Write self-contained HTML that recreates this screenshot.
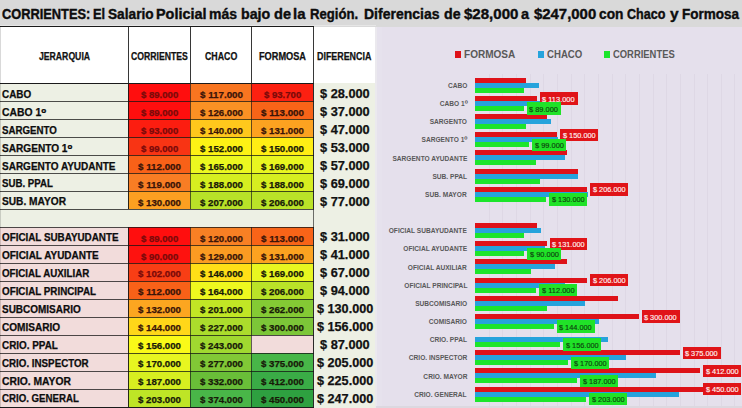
<!DOCTYPE html>
<html><head><meta charset="utf-8"><style>
html,body{margin:0;padding:0;}
body{width:742px;height:408px;overflow:hidden;position:relative;background:#fff;font-family:"Liberation Sans",sans-serif;font-weight:bold;}
.r{position:absolute;}
.t{position:absolute;white-space:nowrap;line-height:0;transform-origin:0 0;}
.s{-webkit-text-stroke:0.25px currentColor;}
.s2{-webkit-text-stroke:0.4px currentColor;}
.n{font-weight:normal;-webkit-text-stroke:0.15px currentColor;}
</style></head><body>
<div class="r" style="left:0px;top:0px;width:742px;height:27px;background:#d9d9d9;"></div>
<div class="r" style="left:0px;top:27px;width:376px;height:381px;background:#ffffff;"></div>
<div class="r" style="left:376px;top:27px;width:366px;height:381px;background:#e5e0ec;"></div>
<div class="t s2" style="left:1.89px;top:13.88px;font-size:14.78px;color:#0d0d0d;transform:scaleX(0.8679);">CORRIENTES:</div>
<div class="t s2" style="left:92.57px;top:13.88px;font-size:14.78px;color:#0d0d0d;transform:scaleX(0.8655);">El</div>
<div class="t s2" style="left:108.19px;top:13.88px;font-size:14.78px;color:#0d0d0d;transform:scaleX(0.9261);">Salario</div>
<div class="t s2" style="left:155.76px;top:13.88px;font-size:14.78px;color:#0d0d0d;transform:scaleX(0.9770);">Policial</div>
<div class="t s2" style="left:209.09px;top:13.88px;font-size:14.78px;color:#0d0d0d;transform:scaleX(0.9460);">más</div>
<div class="t s2" style="left:240.78px;top:13.88px;font-size:14.78px;color:#0d0d0d;transform:scaleX(0.9609);">bajo</div>
<div class="t s2" style="left:273.52px;top:13.88px;font-size:14.78px;color:#0d0d0d;transform:scaleX(0.9868);">de</div>
<div class="t s2" style="left:293.25px;top:13.88px;font-size:14.78px;color:#0d0d0d;transform:scaleX(1.0103);">la</div>
<div class="t s2" style="left:310.24px;top:13.88px;font-size:14.78px;color:#0d0d0d;transform:scaleX(0.8898);">Región.</div>
<div class="t s2" style="left:364.19px;top:13.88px;font-size:14.78px;color:#0d0d0d;transform:scaleX(0.9485);">Diferencias</div>
<div class="t s2" style="left:444.13px;top:13.88px;font-size:14.78px;color:#0d0d0d;transform:scaleX(0.9620);">de</div>
<div class="t s2" style="left:464.07px;top:13.88px;font-size:14.78px;color:#0d0d0d;transform:scaleX(1.0185);">$28,000</div>
<div class="t s2" style="left:521.06px;top:13.88px;font-size:14.78px;color:#0d0d0d;transform:scaleX(0.9828);">a</div>
<div class="t s2" style="left:533.78px;top:13.88px;font-size:14.78px;color:#0d0d0d;transform:scaleX(1.0094);">$247,000</div>
<div class="t s2" style="left:599.45px;top:13.88px;font-size:14.78px;color:#0d0d0d;transform:scaleX(0.9289);">con</div>
<div class="t s2" style="left:627.41px;top:13.88px;font-size:14.78px;color:#0d0d0d;transform:scaleX(0.8500);">Chaco</div>
<div class="t s2" style="left:669.55px;top:13.88px;font-size:14.78px;color:#0d0d0d;transform:scaleX(1.0500);">y</div>
<div class="t s2" style="left:682.42px;top:13.88px;font-size:14.78px;color:#0d0d0d;transform:scaleX(0.9155);">Formosa</div>
<div class="r" style="left:313px;top:83px;width:62px;height:325px;background:#edf0e4;"></div>
<div class="r" style="left:0px;top:83px;width:128px;height:18px;background:#edf0e4;"></div>
<div class="r" style="left:128px;top:83px;width:62px;height:18px;background:#ff0e0e;"></div>
<div class="r" style="left:190px;top:83px;width:61px;height:18px;background:#f87520;"></div>
<div class="r" style="left:251px;top:83px;width:62px;height:18px;background:#fc2011;"></div>
<div class="r" style="left:0px;top:101px;width:128px;height:18px;background:#edf0e4;"></div>
<div class="r" style="left:128px;top:101px;width:62px;height:18px;background:#ff0e0e;"></div>
<div class="r" style="left:190px;top:101px;width:61px;height:18px;background:#fa9124;"></div>
<div class="r" style="left:251px;top:101px;width:62px;height:18px;background:#f86418;"></div>
<div class="r" style="left:0px;top:119px;width:128px;height:18px;background:#edf0e4;"></div>
<div class="r" style="left:128px;top:119px;width:62px;height:18px;background:#fc1d10;"></div>
<div class="r" style="left:190px;top:119px;width:61px;height:18px;background:#ffc81c;"></div>
<div class="r" style="left:251px;top:119px;width:62px;height:18px;background:#fca220;"></div>
<div class="r" style="left:0px;top:137px;width:128px;height:18px;background:#edf0e4;"></div>
<div class="r" style="left:128px;top:137px;width:62px;height:18px;background:#f83414;"></div>
<div class="r" style="left:190px;top:137px;width:61px;height:18px;background:#fdf215;"></div>
<div class="r" style="left:251px;top:137px;width:62px;height:18px;background:#ffee14;"></div>
<div class="r" style="left:0px;top:155px;width:128px;height:18px;background:#edf0e4;"></div>
<div class="r" style="left:128px;top:155px;width:62px;height:18px;background:#f86118;"></div>
<div class="r" style="left:190px;top:155px;width:61px;height:18px;background:#ecf820;"></div>
<div class="r" style="left:251px;top:155px;width:62px;height:18px;background:#e8f620;"></div>
<div class="r" style="left:0px;top:173px;width:128px;height:18px;background:#edf0e4;"></div>
<div class="r" style="left:128px;top:173px;width:62px;height:18px;background:#f87d24;"></div>
<div class="r" style="left:190px;top:173px;width:61px;height:18px;background:#d6ee20;"></div>
<div class="r" style="left:251px;top:173px;width:62px;height:18px;background:#d6ee20;"></div>
<div class="r" style="left:0px;top:191px;width:128px;height:18px;background:#edf0e4;"></div>
<div class="r" style="left:128px;top:191px;width:62px;height:18px;background:#fc9f21;"></div>
<div class="r" style="left:190px;top:191px;width:61px;height:18px;background:#b8e228;"></div>
<div class="r" style="left:251px;top:191px;width:62px;height:18px;background:#bae328;"></div>
<div class="r" style="left:0px;top:209px;width:313px;height:18px;background:#edf0e4;"></div>
<div class="r" style="left:0px;top:227px;width:128px;height:18px;background:#f2dcdb;"></div>
<div class="r" style="left:128px;top:227px;width:62px;height:18px;background:#ff0e0e;"></div>
<div class="r" style="left:190px;top:227px;width:61px;height:18px;background:#f88024;"></div>
<div class="r" style="left:251px;top:227px;width:62px;height:18px;background:#f86418;"></div>
<div class="r" style="left:0px;top:245px;width:128px;height:18px;background:#f2dcdb;"></div>
<div class="r" style="left:128px;top:245px;width:62px;height:18px;background:#fe120f;"></div>
<div class="r" style="left:190px;top:245px;width:61px;height:18px;background:#fb9b22;"></div>
<div class="r" style="left:251px;top:245px;width:62px;height:18px;background:#fca220;"></div>
<div class="r" style="left:0px;top:263px;width:128px;height:18px;background:#f2dcdb;"></div>
<div class="r" style="left:128px;top:263px;width:62px;height:18px;background:#f83e15;"></div>
<div class="r" style="left:190px;top:263px;width:61px;height:18px;background:#ffdf17;"></div>
<div class="r" style="left:251px;top:263px;width:62px;height:18px;background:#e8f620;"></div>
<div class="r" style="left:0px;top:281px;width:128px;height:18px;background:#f2dcdb;"></div>
<div class="r" style="left:128px;top:281px;width:62px;height:18px;background:#f86118;"></div>
<div class="r" style="left:190px;top:281px;width:61px;height:18px;background:#eef81f;"></div>
<div class="r" style="left:251px;top:281px;width:62px;height:18px;background:#bae328;"></div>
<div class="r" style="left:0px;top:299px;width:128px;height:18px;background:#f2dcdb;"></div>
<div class="r" style="left:128px;top:299px;width:62px;height:18px;background:#fca620;"></div>
<div class="r" style="left:190px;top:299px;width:61px;height:18px;background:#c1e625;"></div>
<div class="r" style="left:251px;top:299px;width:62px;height:18px;background:#84ca34;"></div>
<div class="r" style="left:0px;top:317px;width:128px;height:18px;background:#f2dcdb;"></div>
<div class="r" style="left:128px;top:317px;width:62px;height:18px;background:#ffd719;"></div>
<div class="r" style="left:190px;top:317px;width:61px;height:18px;background:#abdc2c;"></div>
<div class="r" style="left:251px;top:317px;width:62px;height:18px;background:#7cc638;"></div>
<div class="r" style="left:0px;top:335px;width:128px;height:18px;background:#f2dcdb;"></div>
<div class="r" style="left:128px;top:335px;width:62px;height:18px;background:#fafa18;"></div>
<div class="r" style="left:190px;top:335px;width:61px;height:18px;background:#a0d830;"></div>
<div class="r" style="left:251px;top:335px;width:62px;height:18px;background:#f2dcdb;"></div>
<div class="r" style="left:0px;top:353px;width:128px;height:18px;background:#f2dcdb;"></div>
<div class="r" style="left:128px;top:353px;width:62px;height:18px;background:#e7f620;"></div>
<div class="r" style="left:190px;top:353px;width:61px;height:18px;background:#81c836;"></div>
<div class="r" style="left:251px;top:353px;width:62px;height:18px;background:#48b648;"></div>
<div class="r" style="left:0px;top:371px;width:128px;height:18px;background:#f2dcdb;"></div>
<div class="r" style="left:128px;top:371px;width:62px;height:18px;background:#d7ee20;"></div>
<div class="r" style="left:190px;top:371px;width:61px;height:18px;background:#69be38;"></div>
<div class="r" style="left:251px;top:371px;width:62px;height:18px;background:#3aac46;"></div>
<div class="r" style="left:0px;top:389px;width:128px;height:18px;background:#f2dcdb;"></div>
<div class="r" style="left:128px;top:389px;width:62px;height:18px;background:#bee526;"></div>
<div class="r" style="left:190px;top:389px;width:61px;height:18px;background:#49b648;"></div>
<div class="r" style="left:251px;top:389px;width:62px;height:18px;background:#2ea040;"></div>
<div class="t s" style="left:2.30px;top:94.83px;font-size:10.29px;color:#0d0d0d;transform:scaleX(0.9616);">CABO</div>
<div class="t s" style="left:141.01px;top:95.24px;font-size:9.13px;color:#7a0a0a;transform:scaleX(1.0481);">$ 89.000</div>
<div class="t s" style="left:199.60px;top:95.24px;font-size:9.13px;color:#3a1408;transform:scaleX(1.0725);">$ 117.000</div>
<div class="t s" style="left:264.01px;top:95.24px;font-size:9.13px;color:#7a0a0a;transform:scaleX(1.0481);">$ 93.700</div>
<div class="t s" style="left:319.81px;top:94.13px;font-size:12.32px;color:#111;transform:scaleX(1.0372);">$ 28.000</div>
<div class="t s" style="left:2.29px;top:112.75px;font-size:10.29px;color:#0d0d0d;transform:scaleX(1.0075);">CABO 1<span style="font-size:1.3em;vertical-align:-0.12em">º</span></div>
<div class="t s" style="left:141.01px;top:113.15px;font-size:9.13px;color:#7a0a0a;transform:scaleX(1.0481);">$ 89.000</div>
<div class="t s" style="left:199.60px;top:113.15px;font-size:9.13px;color:#3a1408;transform:scaleX(1.0591);">$ 126.000</div>
<div class="t s" style="left:261.10px;top:113.15px;font-size:9.13px;color:#3a1408;transform:scaleX(1.0725);">$ 113.000</div>
<div class="t s" style="left:319.81px;top:112.05px;font-size:12.32px;color:#111;transform:scaleX(1.0372);">$ 37.000</div>
<div class="t s" style="left:2.41px;top:130.67px;font-size:10.29px;color:#0d0d0d;transform:scaleX(0.9448);">SARGENTO</div>
<div class="t s" style="left:141.01px;top:131.07px;font-size:9.13px;color:#7a0a0a;transform:scaleX(1.0481);">$ 93.000</div>
<div class="t s" style="left:199.60px;top:131.07px;font-size:9.13px;color:#3a1408;transform:scaleX(1.0591);">$ 140.000</div>
<div class="t s" style="left:261.10px;top:131.07px;font-size:9.13px;color:#3a1408;transform:scaleX(1.0591);">$ 131.000</div>
<div class="t s" style="left:319.81px;top:129.97px;font-size:12.32px;color:#111;transform:scaleX(1.0372);">$ 47.000</div>
<div class="t s" style="left:2.40px;top:148.59px;font-size:10.29px;color:#0d0d0d;transform:scaleX(0.9825);">SARGENTO 1<span style="font-size:1.3em;vertical-align:-0.12em">º</span></div>
<div class="t s" style="left:141.01px;top:148.99px;font-size:9.13px;color:#7a0a0a;transform:scaleX(1.0481);">$ 99.000</div>
<div class="t s" style="left:199.60px;top:148.99px;font-size:9.13px;color:#181a08;transform:scaleX(1.0591);">$ 152.000</div>
<div class="t s" style="left:261.10px;top:148.99px;font-size:9.13px;color:#181a08;transform:scaleX(1.0591);">$ 150.000</div>
<div class="t s" style="left:319.81px;top:147.88px;font-size:12.32px;color:#111;transform:scaleX(1.0372);">$ 53.000</div>
<div class="t s" style="left:2.40px;top:166.51px;font-size:10.29px;color:#0d0d0d;transform:scaleX(0.9723);">SARGENTO AYUDANTE</div>
<div class="t s" style="left:138.10px;top:166.91px;font-size:9.13px;color:#3a1408;transform:scaleX(1.0725);">$ 112.000</div>
<div class="t s" style="left:199.60px;top:166.91px;font-size:9.13px;color:#181a08;transform:scaleX(1.0591);">$ 165.000</div>
<div class="t s" style="left:261.10px;top:166.91px;font-size:9.13px;color:#181a08;transform:scaleX(1.0591);">$ 169.000</div>
<div class="t s" style="left:319.81px;top:165.80px;font-size:12.32px;color:#111;transform:scaleX(1.0372);">$ 57.000</div>
<div class="t s" style="left:2.41px;top:184.42px;font-size:10.29px;color:#0d0d0d;transform:scaleX(0.9401);">SUB. PPAL</div>
<div class="t s" style="left:138.10px;top:184.82px;font-size:9.13px;color:#3a1408;transform:scaleX(1.0725);">$ 119.000</div>
<div class="t s" style="left:199.60px;top:184.82px;font-size:9.13px;color:#181a08;transform:scaleX(1.0591);">$ 188.000</div>
<div class="t s" style="left:261.10px;top:184.82px;font-size:9.13px;color:#181a08;transform:scaleX(1.0591);">$ 188.000</div>
<div class="t s" style="left:319.81px;top:183.72px;font-size:12.32px;color:#111;transform:scaleX(1.0372);">$ 69.000</div>
<div class="t s" style="left:2.39px;top:202.34px;font-size:10.29px;color:#0d0d0d;transform:scaleX(0.9882);">SUB. MAYOR</div>
<div class="t s" style="left:138.10px;top:202.74px;font-size:9.13px;color:#3a1408;transform:scaleX(1.0591);">$ 130.000</div>
<div class="t s" style="left:199.60px;top:202.74px;font-size:9.13px;color:#181a08;transform:scaleX(1.0591);">$ 207.000</div>
<div class="t s" style="left:261.10px;top:202.74px;font-size:9.13px;color:#181a08;transform:scaleX(1.0591);">$ 206.000</div>
<div class="t s" style="left:319.81px;top:201.64px;font-size:12.32px;color:#111;transform:scaleX(1.0372);">$ 77.000</div>
<div class="t s" style="left:2.31px;top:238.18px;font-size:10.29px;color:#0d0d0d;transform:scaleX(0.9578);">OFICIAL SUBAYUDANTE</div>
<div class="t s" style="left:141.01px;top:238.58px;font-size:9.13px;color:#7a0a0a;transform:scaleX(1.0481);">$ 89.000</div>
<div class="t s" style="left:199.60px;top:238.58px;font-size:9.13px;color:#3a1408;transform:scaleX(1.0591);">$ 120.000</div>
<div class="t s" style="left:261.10px;top:238.58px;font-size:9.13px;color:#3a1408;transform:scaleX(1.0725);">$ 113.000</div>
<div class="t s" style="left:319.81px;top:237.47px;font-size:12.32px;color:#111;transform:scaleX(1.0372);">$ 31.000</div>
<div class="t s" style="left:2.30px;top:256.09px;font-size:10.29px;color:#0d0d0d;transform:scaleX(0.9718);">OFICIAL AYUDANTE</div>
<div class="t s" style="left:141.01px;top:256.50px;font-size:9.13px;color:#7a0a0a;transform:scaleX(1.0481);">$ 90.000</div>
<div class="t s" style="left:199.60px;top:256.50px;font-size:9.13px;color:#3a1408;transform:scaleX(1.0591);">$ 129.000</div>
<div class="t s" style="left:261.10px;top:256.50px;font-size:9.13px;color:#3a1408;transform:scaleX(1.0591);">$ 131.000</div>
<div class="t s" style="left:319.81px;top:255.39px;font-size:12.32px;color:#111;transform:scaleX(1.0372);">$ 41.000</div>
<div class="t s" style="left:2.31px;top:274.01px;font-size:10.29px;color:#0d0d0d;transform:scaleX(0.9499);">OFICIAL AUXILIAR</div>
<div class="t s" style="left:138.10px;top:274.41px;font-size:9.13px;color:#7a0a0a;transform:scaleX(1.0591);">$ 102.000</div>
<div class="t s" style="left:199.60px;top:274.41px;font-size:9.13px;color:#181a08;transform:scaleX(1.0591);">$ 146.000</div>
<div class="t s" style="left:261.10px;top:274.41px;font-size:9.13px;color:#181a08;transform:scaleX(1.0591);">$ 169.000</div>
<div class="t s" style="left:319.81px;top:273.31px;font-size:12.32px;color:#111;transform:scaleX(1.0372);">$ 67.000</div>
<div class="t s" style="left:2.31px;top:291.93px;font-size:10.29px;color:#0d0d0d;transform:scaleX(0.9550);">OFICIAL PRINCIPAL</div>
<div class="t s" style="left:138.10px;top:292.33px;font-size:9.13px;color:#3a1408;transform:scaleX(1.0725);">$ 112.000</div>
<div class="t s" style="left:199.60px;top:292.33px;font-size:9.13px;color:#181a08;transform:scaleX(1.0591);">$ 164.000</div>
<div class="t s" style="left:261.10px;top:292.33px;font-size:9.13px;color:#181a08;transform:scaleX(1.0591);">$ 206.000</div>
<div class="t s" style="left:319.81px;top:291.23px;font-size:12.32px;color:#111;transform:scaleX(1.0372);">$ 94.000</div>
<div class="t s" style="left:2.40px;top:309.85px;font-size:10.29px;color:#0d0d0d;transform:scaleX(0.9700);">SUBCOMISARIO</div>
<div class="t s" style="left:138.10px;top:310.25px;font-size:9.13px;color:#3a1408;transform:scaleX(1.0591);">$ 132.000</div>
<div class="t s" style="left:199.60px;top:310.25px;font-size:9.13px;color:#181a08;transform:scaleX(1.0591);">$ 201.000</div>
<div class="t s" style="left:261.10px;top:310.25px;font-size:9.13px;color:#181a08;transform:scaleX(1.0591);">$ 262.000</div>
<div class="t s" style="left:316.51px;top:309.14px;font-size:12.32px;color:#111;transform:scaleX(1.0269);">$ 130.000</div>
<div class="t s" style="left:2.30px;top:327.76px;font-size:10.29px;color:#0d0d0d;transform:scaleX(0.9795);">COMISARIO</div>
<div class="t s" style="left:138.10px;top:328.17px;font-size:9.13px;color:#3a1408;transform:scaleX(1.0591);">$ 144.000</div>
<div class="t s" style="left:199.60px;top:328.17px;font-size:9.13px;color:#181a08;transform:scaleX(1.0591);">$ 227.000</div>
<div class="t s" style="left:261.10px;top:328.17px;font-size:9.13px;color:#181a08;transform:scaleX(1.0591);">$ 300.000</div>
<div class="t s" style="left:316.51px;top:327.06px;font-size:12.32px;color:#111;transform:scaleX(1.0269);">$ 156.000</div>
<div class="t s" style="left:2.30px;top:345.68px;font-size:10.29px;color:#0d0d0d;transform:scaleX(0.9614);">CRIO. PPAL</div>
<div class="t s" style="left:138.10px;top:346.08px;font-size:9.13px;color:#181a08;transform:scaleX(1.0591);">$ 156.000</div>
<div class="t s" style="left:199.60px;top:346.08px;font-size:9.13px;color:#181a08;transform:scaleX(1.0591);">$ 243.000</div>
<div class="t s" style="left:319.81px;top:344.98px;font-size:12.32px;color:#111;transform:scaleX(1.0372);">$ 87.000</div>
<div class="t s" style="left:2.31px;top:363.60px;font-size:10.29px;color:#0d0d0d;transform:scaleX(0.9498);">CRIO. INSPECTOR</div>
<div class="t s" style="left:138.10px;top:364.00px;font-size:9.13px;color:#181a08;transform:scaleX(1.0591);">$ 170.000</div>
<div class="t s" style="left:199.60px;top:364.00px;font-size:9.13px;color:#181a08;transform:scaleX(1.0591);">$ 277.000</div>
<div class="t s" style="left:261.10px;top:364.00px;font-size:9.13px;color:#181a08;transform:scaleX(1.0591);">$ 375.000</div>
<div class="t s" style="left:316.51px;top:362.90px;font-size:12.32px;color:#111;transform:scaleX(1.0269);">$ 205.000</div>
<div class="t s" style="left:2.29px;top:381.52px;font-size:10.29px;color:#0d0d0d;transform:scaleX(1.0034);">CRIO. MAYOR</div>
<div class="t s" style="left:138.10px;top:381.92px;font-size:9.13px;color:#181a08;transform:scaleX(1.0591);">$ 187.000</div>
<div class="t s" style="left:199.60px;top:381.92px;font-size:9.13px;color:#181a08;transform:scaleX(1.0591);">$ 332.000</div>
<div class="t s" style="left:261.10px;top:381.92px;font-size:9.13px;color:#181a08;transform:scaleX(1.0591);">$ 412.000</div>
<div class="t s" style="left:316.51px;top:380.81px;font-size:12.32px;color:#111;transform:scaleX(1.0269);">$ 225.000</div>
<div class="t s" style="left:2.31px;top:399.43px;font-size:10.29px;color:#0d0d0d;transform:scaleX(0.9404);">CRIO. GENERAL</div>
<div class="t s" style="left:138.10px;top:399.84px;font-size:9.13px;color:#181a08;transform:scaleX(1.0591);">$ 203.000</div>
<div class="t s" style="left:199.60px;top:399.84px;font-size:9.13px;color:#181a08;transform:scaleX(1.0591);">$ 374.000</div>
<div class="t s" style="left:261.10px;top:399.84px;font-size:9.13px;color:#181a08;transform:scaleX(1.0591);">$ 450.000</div>
<div class="t s" style="left:316.51px;top:398.73px;font-size:12.32px;color:#111;transform:scaleX(1.0269);">$ 247.000</div>
<div class="r" style="left:0px;top:100.5px;width:314px;height:1px;background:rgba(20,20,20,0.75);"></div>
<div class="r" style="left:0px;top:118.5px;width:314px;height:1px;background:rgba(20,20,20,0.75);"></div>
<div class="r" style="left:0px;top:136.5px;width:314px;height:1px;background:rgba(20,20,20,0.75);"></div>
<div class="r" style="left:0px;top:154.5px;width:314px;height:1px;background:rgba(20,20,20,0.75);"></div>
<div class="r" style="left:0px;top:172.5px;width:314px;height:1px;background:rgba(20,20,20,0.75);"></div>
<div class="r" style="left:0px;top:190.5px;width:314px;height:1px;background:rgba(20,20,20,0.75);"></div>
<div class="r" style="left:0px;top:208.5px;width:314px;height:1px;background:rgba(20,20,20,0.75);"></div>
<div class="r" style="left:0px;top:226.5px;width:314px;height:1px;background:rgba(20,20,20,0.75);"></div>
<div class="r" style="left:0px;top:244.5px;width:314px;height:1px;background:rgba(20,20,20,0.75);"></div>
<div class="r" style="left:0px;top:262.5px;width:314px;height:1px;background:rgba(20,20,20,0.75);"></div>
<div class="r" style="left:0px;top:280.5px;width:314px;height:1px;background:rgba(20,20,20,0.75);"></div>
<div class="r" style="left:0px;top:298.5px;width:314px;height:1px;background:rgba(20,20,20,0.75);"></div>
<div class="r" style="left:0px;top:316.5px;width:314px;height:1px;background:rgba(20,20,20,0.75);"></div>
<div class="r" style="left:0px;top:334.5px;width:314px;height:1px;background:rgba(20,20,20,0.75);"></div>
<div class="r" style="left:0px;top:352.5px;width:314px;height:1px;background:rgba(20,20,20,0.75);"></div>
<div class="r" style="left:0px;top:370.5px;width:314px;height:1px;background:rgba(20,20,20,0.75);"></div>
<div class="r" style="left:0px;top:388.5px;width:314px;height:1px;background:rgba(20,20,20,0.75);"></div>
<div class="r" style="left:0px;top:406.5px;width:314px;height:1px;background:rgba(20,20,20,0.75);"></div>
<div class="r" style="left:0px;top:424.5px;width:314px;height:1px;background:rgba(20,20,20,0.75);"></div>
<div class="r" style="left:127.5px;top:26px;width:1px;height:57px;background:rgba(20,20,20,0.85);"></div>
<div class="r" style="left:127.5px;top:83px;width:1px;height:126px;background:rgba(20,20,20,0.9);"></div>
<div class="r" style="left:127.5px;top:227px;width:1px;height:181px;background:rgba(20,20,20,0.9);"></div>
<div class="r" style="left:189.5px;top:26px;width:1px;height:57px;background:rgba(20,20,20,0.85);"></div>
<div class="r" style="left:189.5px;top:83px;width:1px;height:126px;background:rgba(20,20,20,0.65);"></div>
<div class="r" style="left:189.5px;top:227px;width:1px;height:181px;background:rgba(20,20,20,0.65);"></div>
<div class="r" style="left:250.5px;top:26px;width:1px;height:57px;background:rgba(20,20,20,0.85);"></div>
<div class="r" style="left:250.5px;top:83px;width:1px;height:126px;background:rgba(20,20,20,0.65);"></div>
<div class="r" style="left:250.5px;top:227px;width:1px;height:181px;background:rgba(20,20,20,0.65);"></div>
<div class="r" style="left:312.5px;top:26px;width:1px;height:57px;background:rgba(20,20,20,0.85);"></div>
<div class="r" style="left:312.5px;top:83px;width:1px;height:126px;background:rgba(20,20,20,0.9);"></div>
<div class="r" style="left:312.5px;top:227px;width:1px;height:181px;background:rgba(20,20,20,0.9);"></div>
<div class="r" style="left:312.5px;top:209px;width:1px;height:18px;background:rgba(20,20,20,0.6);"></div>
<div class="r" style="left:0px;top:406.6px;width:314px;height:1.4px;background:#1a1a1a;"></div>
<div class="r" style="left:0px;top:25px;width:376px;height:1px;background:#e6e6e6;"></div>
<div class="r" style="left:0px;top:26px;width:314px;height:1.3px;background:#1a1a1a;"></div>
<div class="r" style="left:0px;top:82.6px;width:314px;height:1.4px;background:#1a1a1a;"></div>
<div class="r" style="left:0px;top:26px;width:1px;height:382px;background:rgba(0,0,0,0.15);"></div>
<div class="r" style="left:375px;top:27px;width:1.5px;height:381px;background:#ebe9ee;"></div>
<div class="r" style="left:376.5px;top:27px;width:5px;height:381px;background:#e6e2ed;"></div>
<div class="t s" style="left:38.87px;top:56.53px;font-size:10.00px;color:#111;transform:scaleX(0.8667);">JERARQUIA</div>
<div class="t s" style="left:130.75px;top:56.53px;font-size:10.00px;color:#111;transform:scaleX(0.8657);">CORRIENTES</div>
<div class="t s" style="left:204.85px;top:56.53px;font-size:10.00px;color:#111;transform:scaleX(0.8815);">CHACO</div>
<div class="t s" style="left:259.00px;top:56.53px;font-size:10.00px;color:#111;transform:scaleX(0.9183);">FORMOSA</div>
<div class="t s" style="left:316.82px;top:56.53px;font-size:10.00px;color:#111;transform:scaleX(0.8887);">DIFERENCIA</div>
<div class="r" style="left:489px;top:74px;width:1px;height:332px;background:rgba(150,140,165,0.09);"></div>
<div class="r" style="left:502px;top:74px;width:1px;height:332px;background:rgba(150,140,165,0.09);"></div>
<div class="r" style="left:516px;top:74px;width:1px;height:332px;background:rgba(150,140,165,0.09);"></div>
<div class="r" style="left:530px;top:74px;width:1px;height:332px;background:rgba(150,140,165,0.09);"></div>
<div class="r" style="left:543px;top:74px;width:1px;height:332px;background:rgba(150,140,165,0.09);"></div>
<div class="r" style="left:557px;top:74px;width:1px;height:332px;background:rgba(150,140,165,0.09);"></div>
<div class="r" style="left:571px;top:74px;width:1px;height:332px;background:rgba(150,140,165,0.09);"></div>
<div class="r" style="left:584px;top:74px;width:1px;height:332px;background:rgba(150,140,165,0.09);"></div>
<div class="r" style="left:598px;top:74px;width:1px;height:332px;background:rgba(150,140,165,0.09);"></div>
<div class="r" style="left:612px;top:74px;width:1px;height:332px;background:rgba(150,140,165,0.09);"></div>
<div class="r" style="left:625px;top:74px;width:1px;height:332px;background:rgba(150,140,165,0.09);"></div>
<div class="r" style="left:639px;top:74px;width:1px;height:332px;background:rgba(150,140,165,0.09);"></div>
<div class="r" style="left:653px;top:74px;width:1px;height:332px;background:rgba(150,140,165,0.09);"></div>
<div class="r" style="left:666px;top:74px;width:1px;height:332px;background:rgba(150,140,165,0.09);"></div>
<div class="r" style="left:680px;top:74px;width:1px;height:332px;background:rgba(150,140,165,0.09);"></div>
<div class="r" style="left:694px;top:74px;width:1px;height:332px;background:rgba(150,140,165,0.09);"></div>
<div class="r" style="left:707px;top:74px;width:1px;height:332px;background:rgba(150,140,165,0.09);"></div>
<div class="r" style="left:721px;top:74px;width:1px;height:332px;background:rgba(150,140,165,0.09);"></div>
<div class="r" style="left:734px;top:74px;width:1px;height:332px;background:rgba(150,140,165,0.09);"></div>
<div class="r" style="left:454.5px;top:51.3px;width:6.6px;height:6.6px;background:#de1219;"></div>
<div class="r" style="left:537.5px;top:51.3px;width:6.4px;height:6.6px;background:#26a3dc;"></div>
<div class="r" style="left:603.5px;top:51.3px;width:6.4px;height:6.6px;background:#1ce52c;"></div>
<div class="t " style="left:464.15px;top:54.28px;font-size:10.72px;color:#595959;transform:scaleX(0.9361);">FORMOSA</div>
<div class="t " style="left:546.92px;top:54.28px;font-size:10.72px;color:#595959;transform:scaleX(0.8973);">CHACO</div>
<div class="t " style="left:612.62px;top:54.28px;font-size:10.72px;color:#595959;transform:scaleX(0.8778);">CORRIENTES</div>
<div class="r" style="left:475.1px;top:78px;width:51.11px;height:5px;background:#de1219;"></div>
<div class="r" style="left:475.1px;top:83px;width:63.82px;height:5px;background:#26a3dc;"></div>
<div class="r" style="left:475.1px;top:88px;width:48.55px;height:5px;background:#1ce52c;"></div>
<div class="t " style="left:445.79px;top:86.49px;font-size:7.25px;color:#595959;transform:scaleX(1.0000);transform:scaleX(0.91);transform-origin:100% 0;">CABO</div>
<div class="r" style="left:475.1px;top:96px;width:61.64px;height:5px;background:#de1219;"></div>
<div class="r" style="left:475.1px;top:101px;width:68.73px;height:5px;background:#26a3dc;"></div>
<div class="r" style="left:475.1px;top:106px;width:48.55px;height:5px;background:#1ce52c;"></div>
<div class="t " style="left:436.87px;top:104.49px;font-size:7.25px;color:#595959;transform:scaleX(1.0000);transform:scaleX(0.91);transform-origin:100% 0;">CABO 1<span style="font-size:1.3em;vertical-align:-0.12em">º</span></div>
<div class="r" style="left:475.1px;top:114px;width:71.46px;height:5px;background:#de1219;"></div>
<div class="r" style="left:475.1px;top:119px;width:76.37px;height:5px;background:#26a3dc;"></div>
<div class="r" style="left:475.1px;top:124px;width:50.73px;height:5px;background:#1ce52c;"></div>
<div class="t " style="left:426.18px;top:122.49px;font-size:7.25px;color:#595959;transform:scaleX(1.0000);transform:scaleX(0.91);transform-origin:100% 0;">SARGENTO</div>
<div class="r" style="left:475.1px;top:132px;width:81.83px;height:5px;background:#de1219;"></div>
<div class="r" style="left:475.1px;top:137px;width:82.92px;height:5px;background:#26a3dc;"></div>
<div class="r" style="left:475.1px;top:142px;width:54.0px;height:5px;background:#1ce52c;"></div>
<div class="t " style="left:417.27px;top:140.49px;font-size:7.25px;color:#595959;transform:scaleX(1.0000);transform:scaleX(0.91);transform-origin:100% 0;">SARGENTO 1<span style="font-size:1.3em;vertical-align:-0.12em">º</span></div>
<div class="r" style="left:475.1px;top:150px;width:92.19px;height:5px;background:#de1219;"></div>
<div class="r" style="left:475.1px;top:155px;width:90.01px;height:5px;background:#26a3dc;"></div>
<div class="r" style="left:475.1px;top:160px;width:61.1px;height:5px;background:#1ce52c;"></div>
<div class="t " style="left:384.81px;top:159.49px;font-size:7.25px;color:#595959;transform:scaleX(1.0000);transform:scaleX(0.91);transform-origin:100% 0;">SARGENTO AYUDANTE</div>
<div class="r" style="left:475.1px;top:169px;width:102.55px;height:5px;background:#de1219;"></div>
<div class="r" style="left:475.1px;top:174px;width:102.55px;height:5px;background:#26a3dc;"></div>
<div class="r" style="left:475.1px;top:179px;width:64.91px;height:5px;background:#1ce52c;"></div>
<div class="t " style="left:428.90px;top:177.49px;font-size:7.25px;color:#595959;transform:scaleX(1.0000);transform:scaleX(0.91);transform-origin:100% 0;">SUB. PPAL</div>
<div class="r" style="left:475.1px;top:187px;width:112.37px;height:5px;background:#de1219;"></div>
<div class="r" style="left:475.1px;top:192px;width:112.92px;height:5px;background:#26a3dc;"></div>
<div class="r" style="left:475.1px;top:197px;width:70.91px;height:5px;background:#1ce52c;"></div>
<div class="t " style="left:421.33px;top:195.49px;font-size:7.25px;color:#595959;transform:scaleX(1.0000);transform:scaleX(0.91);transform-origin:100% 0;">SUB. MAYOR</div>
<div class="r" style="left:475.1px;top:223px;width:61.64px;height:5px;background:#de1219;"></div>
<div class="r" style="left:475.1px;top:228px;width:65.46px;height:5px;background:#26a3dc;"></div>
<div class="r" style="left:475.1px;top:233px;width:48.55px;height:5px;background:#1ce52c;"></div>
<div class="t " style="left:381.29px;top:231.49px;font-size:7.25px;color:#595959;transform:scaleX(1.0000);transform:scaleX(0.91);transform-origin:100% 0;">OFICIAL SUBAYUDANTE</div>
<div class="r" style="left:475.1px;top:241px;width:71.46px;height:5px;background:#de1219;"></div>
<div class="r" style="left:475.1px;top:246px;width:70.37px;height:5px;background:#26a3dc;"></div>
<div class="r" style="left:475.1px;top:251px;width:49.09px;height:5px;background:#1ce52c;"></div>
<div class="t " style="left:396.87px;top:249.49px;font-size:7.25px;color:#595959;transform:scaleX(1.0000);transform:scaleX(0.91);transform-origin:100% 0;">OFICIAL AYUDANTE</div>
<div class="r" style="left:475.1px;top:259px;width:92.19px;height:5px;background:#de1219;"></div>
<div class="r" style="left:475.1px;top:264px;width:79.64px;height:5px;background:#26a3dc;"></div>
<div class="r" style="left:475.1px;top:269px;width:55.64px;height:5px;background:#1ce52c;"></div>
<div class="t " style="left:402.16px;top:268.49px;font-size:7.25px;color:#595959;transform:scaleX(1.0000);transform:scaleX(0.91);transform-origin:100% 0;">OFICIAL AUXILIAR</div>
<div class="r" style="left:475.1px;top:278px;width:112.37px;height:5px;background:#de1219;"></div>
<div class="r" style="left:475.1px;top:283px;width:89.46px;height:5px;background:#26a3dc;"></div>
<div class="r" style="left:475.1px;top:288px;width:61.1px;height:5px;background:#1ce52c;"></div>
<div class="t " style="left:397.63px;top:286.49px;font-size:7.25px;color:#595959;transform:scaleX(1.0000);transform:scaleX(0.91);transform-origin:100% 0;">OFICIAL PRINCIPAL</div>
<div class="r" style="left:475.1px;top:296px;width:142.92px;height:5px;background:#de1219;"></div>
<div class="r" style="left:475.1px;top:301px;width:109.65px;height:5px;background:#26a3dc;"></div>
<div class="r" style="left:475.1px;top:306px;width:72.01px;height:5px;background:#1ce52c;"></div>
<div class="t " style="left:409.95px;top:304.49px;font-size:7.25px;color:#595959;transform:scaleX(1.0000);transform:scaleX(0.91);transform-origin:100% 0;">SUBCOMISARIO</div>
<div class="r" style="left:475.1px;top:314px;width:163.65px;height:5px;background:#de1219;"></div>
<div class="r" style="left:475.1px;top:319px;width:123.83px;height:5px;background:#26a3dc;"></div>
<div class="r" style="left:475.1px;top:324px;width:78.55px;height:5px;background:#1ce52c;"></div>
<div class="t " style="left:425.24px;top:322.49px;font-size:7.25px;color:#595959;transform:scaleX(1.0000);transform:scaleX(0.91);transform-origin:100% 0;">COMISARIO</div>
<div class="r" style="left:475.1px;top:337px;width:132.56px;height:5px;background:#26a3dc;"></div>
<div class="r" style="left:475.1px;top:342px;width:85.1px;height:5px;background:#1ce52c;"></div>
<div class="t " style="left:426.08px;top:340.49px;font-size:7.25px;color:#595959;transform:scaleX(1.0000);transform:scaleX(0.91);transform-origin:100% 0;">CRIO. PPAL</div>
<div class="r" style="left:475.1px;top:350px;width:204.56px;height:5px;background:#de1219;"></div>
<div class="r" style="left:475.1px;top:355px;width:151.1px;height:5px;background:#26a3dc;"></div>
<div class="r" style="left:475.1px;top:360px;width:92.73px;height:5px;background:#1ce52c;"></div>
<div class="t " style="left:402.67px;top:358.49px;font-size:7.25px;color:#595959;transform:scaleX(1.0000);transform:scaleX(0.91);transform-origin:100% 0;">CRIO. INSPECTOR</div>
<div class="r" style="left:475.1px;top:368px;width:224.75px;height:5px;background:#de1219;"></div>
<div class="r" style="left:475.1px;top:373px;width:181.11px;height:5px;background:#26a3dc;"></div>
<div class="r" style="left:475.1px;top:378px;width:102.01px;height:5px;background:#1ce52c;"></div>
<div class="t " style="left:418.50px;top:377.49px;font-size:7.25px;color:#595959;transform:scaleX(1.0000);transform:scaleX(0.91);transform-origin:100% 0;">CRIO. MAYOR</div>
<div class="r" style="left:475.1px;top:387px;width:245.47px;height:5px;background:#de1219;"></div>
<div class="r" style="left:475.1px;top:392px;width:204.02px;height:5px;background:#26a3dc;"></div>
<div class="r" style="left:475.1px;top:397px;width:110.74px;height:5px;background:#1ce52c;"></div>
<div class="t " style="left:409.44px;top:395.49px;font-size:7.25px;color:#595959;transform:scaleX(1.0000);transform:scaleX(0.91);transform-origin:100% 0;">CRIO. GENERAL</div>
<div class="r" style="left:539.74px;top:92.27px;width:37.9px;height:12.5px;background:#e01418;"></div>
<div class="t n" style="left:542.47px;top:99.51px;font-size:7.83px;color:#fff4f4;transform:scaleX(0.9543);">$ 113.000</div>
<div class="r" style="left:526.65px;top:102.27px;width:34.1px;height:12.5px;background:#20e228;"></div>
<div class="t n" style="left:529.38px;top:109.51px;font-size:7.83px;color:#0e400e;transform:scaleX(0.9484);">$ 89.000</div>
<div class="r" style="left:559.93px;top:128.61px;width:37.9px;height:12.5px;background:#e01418;"></div>
<div class="t n" style="left:562.65px;top:135.85px;font-size:7.83px;color:#fff4f4;transform:scaleX(0.9380);">$ 150.000</div>
<div class="r" style="left:532.1px;top:138.61px;width:34.1px;height:12.5px;background:#20e228;"></div>
<div class="t n" style="left:534.83px;top:145.85px;font-size:7.83px;color:#0e400e;transform:scaleX(0.9484);">$ 99.000</div>
<div class="r" style="left:590.47px;top:183.12px;width:37.9px;height:12.5px;background:#e01418;"></div>
<div class="t n" style="left:593.20px;top:190.36px;font-size:7.83px;color:#fff4f4;transform:scaleX(0.9380);">$ 206.000</div>
<div class="r" style="left:549.01px;top:193.12px;width:37.9px;height:12.5px;background:#20e228;"></div>
<div class="t n" style="left:551.74px;top:200.36px;font-size:7.83px;color:#0e400e;transform:scaleX(0.9380);">$ 130.000</div>
<div class="r" style="left:549.56px;top:237.63px;width:37.9px;height:12.5px;background:#e01418;"></div>
<div class="t n" style="left:552.29px;top:244.87px;font-size:7.83px;color:#fff4f4;transform:scaleX(0.9380);">$ 131.000</div>
<div class="r" style="left:527.2px;top:247.63px;width:34.1px;height:12.5px;background:#20e228;"></div>
<div class="t n" style="left:529.92px;top:254.87px;font-size:7.83px;color:#0e400e;transform:scaleX(0.9484);">$ 90.000</div>
<div class="r" style="left:590.47px;top:273.97px;width:37.9px;height:12.5px;background:#e01418;"></div>
<div class="t n" style="left:593.20px;top:281.21px;font-size:7.83px;color:#fff4f4;transform:scaleX(0.9380);">$ 206.000</div>
<div class="r" style="left:539.2px;top:283.97px;width:37.9px;height:12.5px;background:#20e228;"></div>
<div class="t n" style="left:541.92px;top:291.21px;font-size:7.83px;color:#0e400e;transform:scaleX(0.9543);">$ 112.000</div>
<div class="r" style="left:641.75px;top:310.31px;width:37.9px;height:12.5px;background:#e01418;"></div>
<div class="t n" style="left:644.48px;top:317.55px;font-size:7.83px;color:#fff4f4;transform:scaleX(0.9380);">$ 300.000</div>
<div class="r" style="left:556.65px;top:320.31px;width:37.9px;height:12.5px;background:#20e228;"></div>
<div class="t n" style="left:559.38px;top:327.55px;font-size:7.83px;color:#0e400e;transform:scaleX(0.9380);">$ 144.000</div>
<div class="r" style="left:563.2px;top:338.48px;width:37.9px;height:12.5px;background:#20e228;"></div>
<div class="t n" style="left:565.92px;top:345.72px;font-size:7.83px;color:#0e400e;transform:scaleX(0.9380);">$ 156.000</div>
<div class="r" style="left:682.66px;top:346.65px;width:37.9px;height:12.5px;background:#e01418;"></div>
<div class="t n" style="left:685.39px;top:353.89px;font-size:7.83px;color:#fff4f4;transform:scaleX(0.9380);">$ 375.000</div>
<div class="r" style="left:570.84px;top:356.65px;width:37.9px;height:12.5px;background:#20e228;"></div>
<div class="t n" style="left:573.56px;top:363.89px;font-size:7.83px;color:#0e400e;transform:scaleX(0.9380);">$ 170.000</div>
<div class="r" style="left:702.85px;top:364.82px;width:37.9px;height:12.5px;background:#e01418;"></div>
<div class="t n" style="left:705.57px;top:372.06px;font-size:7.83px;color:#fff4f4;transform:scaleX(0.9380);">$ 412.000</div>
<div class="r" style="left:580.11px;top:374.82px;width:37.9px;height:12.5px;background:#20e228;"></div>
<div class="t n" style="left:582.84px;top:382.06px;font-size:7.83px;color:#0e400e;transform:scaleX(0.9380);">$ 187.000</div>
<div class="r" style="left:703.1px;top:382.99px;width:37.9px;height:12.5px;background:#e01418;"></div>
<div class="t n" style="left:705.83px;top:390.23px;font-size:7.83px;color:#fff4f4;transform:scaleX(0.9380);">$ 450.000</div>
<div class="r" style="left:588.84px;top:392.99px;width:37.9px;height:12.5px;background:#20e228;"></div>
<div class="t n" style="left:591.56px;top:400.23px;font-size:7.83px;color:#0e400e;transform:scaleX(0.9380);">$ 203.000</div>
<div class="r" style="left:376px;top:406px;width:366px;height:2px;background:#dcd8e0;"></div>
</body></html>
